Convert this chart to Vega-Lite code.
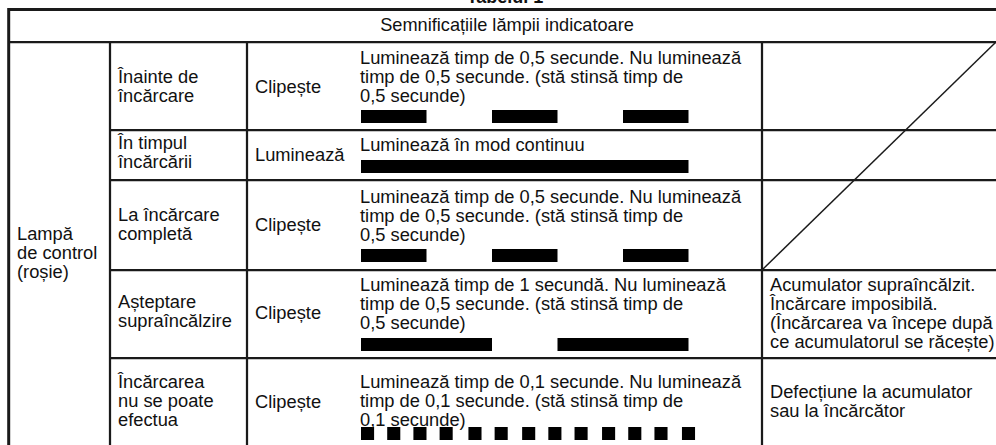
{
  "$schema": "https://vega.github.io/schema/vega-lite/v6.json",
  "width": 996,
  "height": 445,
  "padding": 0,
  "autosize": {"type": "none"},
  "background": "white",
  "config": {"view": {"stroke": null}},
  "datasets": {
    "lines": [
      {"x": 8, "x2": 996, "y": 9.5, "y2": 9.5, "kind": "outer"},
      {"x": 8.7, "x2": 8.7, "y": 8, "y2": 445, "kind": "outer"},
      {"x": 9, "x2": 996, "y": 42, "y2": 42, "kind": "inner"},
      {"x": 110, "x2": 996, "y": 130, "y2": 130, "kind": "inner"},
      {"x": 110, "x2": 996, "y": 180, "y2": 180, "kind": "inner"},
      {"x": 110, "x2": 996, "y": 270, "y2": 270, "kind": "inner"},
      {"x": 110, "x2": 996, "y": 358, "y2": 358, "kind": "inner"},
      {"x": 110, "x2": 110, "y": 42, "y2": 445, "kind": "inner"},
      {"x": 247, "x2": 247, "y": 42, "y2": 445, "kind": "inner"},
      {"x": 762, "x2": 762, "y": 42, "y2": 445, "kind": "inner"},
      {"x": 762, "x2": 996, "y": 270, "y2": 42, "kind": "diag"}
    ],
    "signals": [
      {"row": "r1", "t0": 0, "t1": 0.5, "top": 110, "bottom": 123},
      {"row": "r1", "t0": 1, "t1": 1.5, "top": 110, "bottom": 123},
      {"row": "r1", "t0": 2, "t1": 2.5, "top": 110, "bottom": 123},
      {"row": "r2", "t0": 0, "t1": 2.5, "top": 160, "bottom": 173},
      {"row": "r3", "t0": 0, "t1": 0.5, "top": 249, "bottom": 262},
      {"row": "r3", "t0": 1, "t1": 1.5, "top": 249, "bottom": 262},
      {"row": "r3", "t0": 2, "t1": 2.5, "top": 249, "bottom": 262},
      {"row": "r4", "t0": 0, "t1": 1, "top": 338, "bottom": 351},
      {"row": "r4", "t0": 1.5, "t1": 2.5, "top": 338, "bottom": 351},
      {"row": "r5", "t0": 0, "t1": 0.1, "top": 427, "bottom": 440},
      {"row": "r5", "t0": 0.2, "t1": 0.3, "top": 427, "bottom": 440},
      {"row": "r5", "t0": 0.4, "t1": 0.5, "top": 427, "bottom": 440},
      {"row": "r5", "t0": 0.6, "t1": 0.7, "top": 427, "bottom": 440},
      {"row": "r5", "t0": 0.82, "t1": 0.92, "top": 427, "bottom": 440},
      {"row": "r5", "t0": 1.02, "t1": 1.12, "top": 427, "bottom": 440},
      {"row": "r5", "t0": 1.23, "t1": 1.33, "top": 427, "bottom": 440},
      {"row": "r5", "t0": 1.43, "t1": 1.53, "top": 427, "bottom": 440},
      {"row": "r5", "t0": 1.63, "t1": 1.73, "top": 427, "bottom": 440},
      {"row": "r5", "t0": 1.84, "t1": 1.94, "top": 427, "bottom": 440},
      {"row": "r5", "t0": 2.04, "t1": 2.14, "top": 427, "bottom": 440},
      {"row": "r5", "t0": 2.24, "t1": 2.34, "top": 427, "bottom": 440},
      {"row": "r5", "t0": 2.45, "t1": 2.55, "top": 427, "bottom": 440}
    ],
    "cells": [
      {"x": 17, "y": 235, "text": "Lampă\nde control\n(roșie)"},
      {"x": 118, "y": 78, "text": "Înainte de\nîncărcare"},
      {"x": 118, "y": 144, "text": "În timpul\nîncărcării"},
      {"x": 118, "y": 216, "text": "La încărcare\ncompletă"},
      {"x": 118, "y": 302.5, "text": "Așteptare\nsupraîncălzire"},
      {"x": 118, "y": 383, "text": "Încărcarea\nnu se poate\nefectua"},
      {"x": 255, "y": 88, "text": "Clipește"},
      {"x": 255, "y": 156, "text": "Luminează"},
      {"x": 255, "y": 226, "text": "Clipește"},
      {"x": 255, "y": 314, "text": "Clipește"},
      {"x": 255, "y": 403, "text": "Clipește"},
      {"x": 360, "y": 58.5, "text": "Luminează timp de 0,5 secunde. Nu luminează\ntimp de 0,5 secunde. (stă stinsă timp de\n0,5 secunde)"},
      {"x": 360, "y": 146, "text": "Luminează în mod continuu"},
      {"x": 360, "y": 198, "text": "Luminează timp de 0,5 secunde. Nu luminează\ntimp de 0,5 secunde. (stă stinsă timp de\n0,5 secunde)"},
      {"x": 360, "y": 286, "text": "Luminează timp de 1 secundă. Nu luminează\ntimp de 0,5 secunde. (stă stinsă timp de\n0,5 secunde)"},
      {"x": 360, "y": 383, "text": "Luminează timp de 0,1 secunde. Nu luminează\ntimp de 0,1 secunde. (stă stinsă timp de\n0,1 secunde)"},
      {"x": 770, "y": 286, "text": "Acumulator supraîncălzit.\nÎncărcare imposibilă.\n(Încărcarea va începe după\nce acumulatorul se răcește)"},
      {"x": 770, "y": 393, "text": "Defecțiune la acumulator\nsau la încărcător"}
    ],
    "header": [
      {"x": 507, "y": 26, "text": "Semnificațiile lămpii indicatoare"}
    ],
    "title": [
      {"x": 505, "y": 2.5, "text": "Tabelul 1"}
    ]
  },
  "resolve": {"scale": {"x": "independent"}},
  "layer": [
    {
      "data": {"name": "lines"},
      "mark": {"type": "rule", "color": "#1a1a1a"},
      "encoding": {
        "x": {"field": "x", "type": "quantitative", "scale": {"domain": [0, 996], "nice": false, "zero": false}, "axis": null},
        "x2": {"field": "x2"},
        "y": {"field": "y", "type": "quantitative", "scale": {"domain": [0, 445], "nice": false, "zero": false, "reverse": true}, "axis": null},
        "y2": {"field": "y2"},
        "strokeWidth": {"field": "kind", "type": "nominal", "scale": {"domain": ["outer", "inner", "diag"], "range": [3, 1.5, 1.2]}, "legend": null}
      }
    },
    {
      "data": {"name": "signals"},
      "mark": {"type": "rect", "color": "#000000"},
      "encoding": {
        "x": {"field": "t0", "type": "quantitative", "scale": {"domain": [0, 2.5], "range": [361, 688.5], "nice": false, "zero": false}, "axis": null},
        "x2": {"field": "t1"},
        "y": {"field": "top", "type": "quantitative", "axis": null},
        "y2": {"field": "bottom"}
      }
    },
    {
      "data": {"name": "cells"},
      "mark": {"type": "text", "align": "left", "baseline": "middle", "font": "Liberation Sans", "fontSize": 18.3, "lineHeight": 19, "lineBreak": "\n", "color": "#111111"},
      "encoding": {
        "x": {"field": "x", "type": "quantitative", "scale": {"domain": [0, 996], "nice": false, "zero": false}, "axis": null},
        "y": {"field": "y", "type": "quantitative", "axis": null},
        "text": {"field": "text"}
      }
    },
    {
      "data": {"name": "header"},
      "mark": {"type": "text", "align": "center", "baseline": "middle", "font": "Liberation Sans", "fontSize": 18.2, "color": "#111111"},
      "encoding": {
        "x": {"field": "x", "type": "quantitative", "scale": {"domain": [0, 996], "nice": false, "zero": false}, "axis": null},
        "y": {"field": "y", "type": "quantitative", "axis": null},
        "text": {"field": "text"}
      }
    },
    {
      "data": {"name": "title"},
      "mark": {"type": "text", "align": "center", "baseline": "alphabetic", "font": "Liberation Sans", "fontSize": 18, "fontWeight": "bold", "color": "#111111"},
      "encoding": {
        "x": {"field": "x", "type": "quantitative", "scale": {"domain": [0, 996], "nice": false, "zero": false}, "axis": null},
        "y": {"field": "y", "type": "quantitative", "axis": null},
        "text": {"field": "text"}
      }
    }
  ]
}
